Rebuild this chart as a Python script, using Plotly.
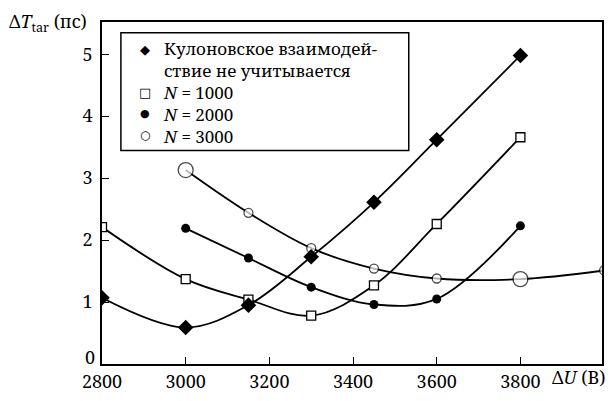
import plotly.graph_objects as go

# Accelerating voltage, V
u_all = [2800, 3000, 3150, 3300, 3450, 3600, 3800]
u_n2000 = [3000, 3150, 3300, 3450, 3600, 3800]
u_n3000 = [3000, 3150, 3300, 3450, 3600, 3800, 4000]

# Pulse duration on target, ps
dt_no_coulomb = [1.07, 0.59, 0.95, 1.73, 2.61, 3.62, 4.98]
dt_n1000 = [2.21, 1.37, 1.04, 0.78, 1.27, 2.26, 3.66]
dt_n2000 = [2.19, 1.71, 1.24, 0.96, 1.05, 2.23]
dt_n3000 = [3.13, 2.44, 1.87, 1.54, 1.38, 1.37, 1.51]
n3000_sizes = [15, 9, 9, 9, 9, 15, 9]

x_ticks = [2800, 3000, 3200, 3400, 3600, 3800]
y_ticks = [1, 2, 3, 4, 5]
y_zero = 0

legend_symbols = ["◆", "", "□", "●", "○"]
legend_lines = ["Кулоновское взаимодей-", "ствие не учитывается",
                "<i>N</i> = 1000", "<i>N</i> = 2000", "<i>N</i> = 3000"]

FONT = "Noto Serif"
SYMFONT = "DejaVu Sans"
TICK_SIZE = 18
LEG_SIZE = 17
LINE = dict(color="black", width=1.8, shape="spline", smoothing=1.0)

fig = go.Figure()

fig.add_trace(go.Scatter(
    x=u_n3000, y=dt_n3000, mode="lines+markers", line=LINE, showlegend=False,
    marker=dict(symbol="circle", size=n3000_sizes, color="white",
                line=dict(color="black", width=1.3))))
fig.add_trace(go.Scatter(
    x=u_n2000, y=dt_n2000, mode="lines+markers", line=LINE, showlegend=False,
    marker=dict(symbol="circle", size=9, color="black")))
fig.add_trace(go.Scatter(
    x=u_all, y=dt_n1000, mode="lines+markers", line=LINE, showlegend=False,
    marker=dict(symbol="square", size=9, color="white",
                line=dict(color="black", width=1.3))))
fig.add_trace(go.Scatter(
    x=u_all, y=dt_no_coulomb, mode="lines+markers", line=LINE, showlegend=False,
    marker=dict(symbol="diamond", size=12, color="black")))

axis_common = dict(showline=True, linecolor="black", linewidth=1.5, mirror=True,
                   ticks="inside", ticklen=7, tickwidth=1.3, tickcolor="black",
                   showgrid=False, zeroline=False,
                   tickfont=dict(family=FONT, size=TICK_SIZE, color="black"))

fig.update_xaxes(range=[2800, 3995], tickvals=x_ticks, ticktext=[str(v) for v in x_ticks],
                 ticklabelstandoff=1, **axis_common)
fig.update_yaxes(range=[0, 5.52], tickvals=y_ticks, ticktext=[str(v) for v in y_ticks],
                 ticklabelstandoff=4, **axis_common)
# the zero label is placed separately, lifted clear of the x labels
fig.add_annotation(xref="paper", yref="y", x=0, y=y_zero, xanchor="right",
                   yanchor="middle", xshift=-5, yshift=7, text=str(y_zero),
                   showarrow=False, height=18,
                   font=dict(family=FONT, size=TICK_SIZE, color="black"))

fig.add_annotation(xref="paper", yref="paper", x=1.0, y=0, xanchor="right", yanchor="top",
                   xshift=6, yshift=1, text="Δ<i>U</i> (В)", showarrow=False,
                   font=dict(family=FONT, size=TICK_SIZE, color="black"))
fig.add_annotation(xref="paper", yref="paper", x=-0.19, y=1.0, xanchor="left",
                   yanchor="middle", text="Δ<i>T</i><sub>tar</sub> (пс)", showarrow=False,
                   font=dict(family=FONT, size=TICK_SIZE, color="black"))

# Legend box: one multi-line text block plus a symbol per row
fig.add_shape(type="rect", xref="paper", yref="paper", x0=0.0378, x1=0.6135,
              y0=0.624, y1=0.9687, line=dict(color="black", width=1.5),
              fillcolor="white", layer="above")
text_mid = 0.7949
fig.add_annotation(xref="paper", yref="paper", x=0.1195, y=text_mid, xanchor="left",
                   yanchor="middle", align="left", text="<br>".join(legend_lines),
                   showarrow=False, borderpad=0,
                   font=dict(family=FONT, size=LEG_SIZE, color="black"))
row_step = LEG_SIZE * 1.3 / 351
sym_sizes = [13, 13, 13, 11, 12]
for i, (sym, ss) in enumerate(zip(legend_symbols, sym_sizes)):
    if sym:
        fig.add_annotation(xref="paper", yref="paper", x=0.0857,
                           y=text_mid + (2 - i) * row_step, xanchor="center",
                           yanchor="middle", text=sym, showarrow=False, borderpad=0,
                           font=dict(family=SYMFONT, size=ss, color="black"))

fig.update_layout(
    width=612, height=401,
    margin=dict(l=102, r=8, t=22, b=28),
    paper_bgcolor="white", plot_bgcolor="white",
    showlegend=False,
)

fig.write_html("out.html")
